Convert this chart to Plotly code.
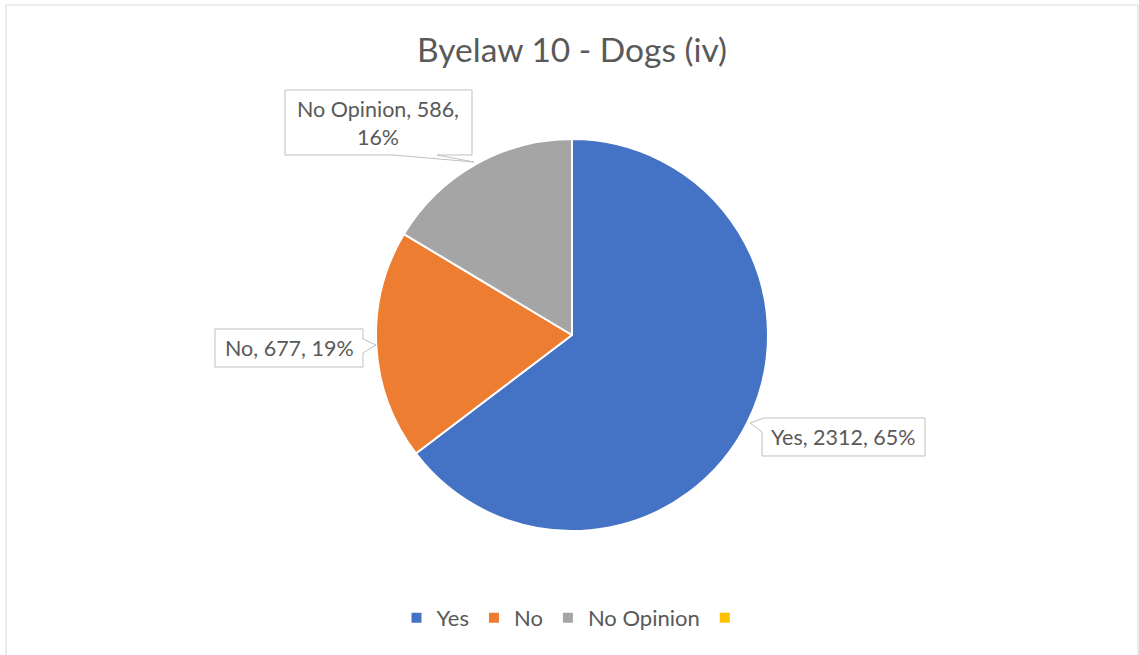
import plotly.graph_objects as go

# Survey responses
categories = ["Yes", "No", "No Opinion", " "]
responses = [2312, 677, 586, 0]
slice_colors = ["#4472C4", "#ED7D31", "#A5A5A5", "#FFC000"]

W, H = 1139, 655
FONT = "Lato"
TEXT_COLOR = "#595959"


def px(x):
    return x / W


def py(y):
    return 1 - y / H


def path(points):
    return "M " + " L ".join(f"{px(x):.5f},{py(y):.5f}" for x, y in points) + " Z"


total = sum(responses)
labels_text = [
    f"{c}, {v}, {round(100 * v / total)}%" for c, v in zip(categories, responses)
]

# pie occupies a square around centre (572, 335) with radius 196
cx, cy, r = 572, 335, 196

fig = go.Figure(
    go.Pie(
        labels=categories,
        values=responses,
        sort=False,
        direction="clockwise",
        rotation=0,
        marker=dict(colors=slice_colors, line=dict(color="white", width=2)),
        textinfo="none",
        hoverinfo="label+value+percent",
        domain=dict(x=[px(cx - r), px(cx + r)], y=[py(cy + r), py(cy - r)]),
    )
)

# callout boxes with pointers
callouts = [
    # (box outline points, text, text centre)
    (
        [(285, 90), (472, 90), (472, 155), (437, 155), (474, 162), (393, 155), (285, 155)],
        labels_text[2].replace("586, ", "586,<br>"),
        (378, 123),
    ),
    (
        [(215, 329), (363, 329), (363, 339), (376, 345), (363, 353), (363, 367), (215, 367)],
        labels_text[1],
        (289, 348),
    ),
    (
        [(750, 423), (764, 418), (925, 418), (925, 456), (762, 456), (762, 432)],
        labels_text[0],
        (843, 437),
    ),
]

shapes = [
    dict(
        type="rect", xref="paper", yref="paper",
        x0=px(6), x1=px(1138), y0=py(5), y1=py(700),
        line=dict(color="#D9D9D9", width=1), fillcolor="rgba(0,0,0,0)", layer="below",
    )
]
annotations = []
for pts, txt, (tx, ty) in callouts:
    shapes.append(
        dict(
            type="path", xref="paper", yref="paper", path=path(pts),
            line=dict(color="#BFBFBF", width=1), fillcolor="white",
        )
    )
    annotations.append(
        dict(
            x=px(tx), y=py(ty), xref="paper", yref="paper", text=txt,
            showarrow=False, xanchor="center", yanchor="middle", align="center",
            font=dict(family=FONT, size=21.5, color=TEXT_COLOR),
        )
    )

fig.update_layout(
    width=W,
    height=H,
    margin=dict(l=0, r=0, t=0, b=0),
    paper_bgcolor="white",
    plot_bgcolor="white",
    title=dict(
        text="Byelaw 10 - Dogs (iv)",
        x=px(572), xanchor="center", y=py(50), yanchor="middle",
        font=dict(family=FONT, size=33.5, color=TEXT_COLOR),
    ),
    legend=dict(
        orientation="h", x=px(576), xanchor="center", y=py(618), yanchor="middle",
        font=dict(family=FONT, size=22, color=TEXT_COLOR),
        itemwidth=30, traceorder="normal",
    ),
    shapes=shapes,
    annotations=annotations,
)

fig.write_html("out.html")
